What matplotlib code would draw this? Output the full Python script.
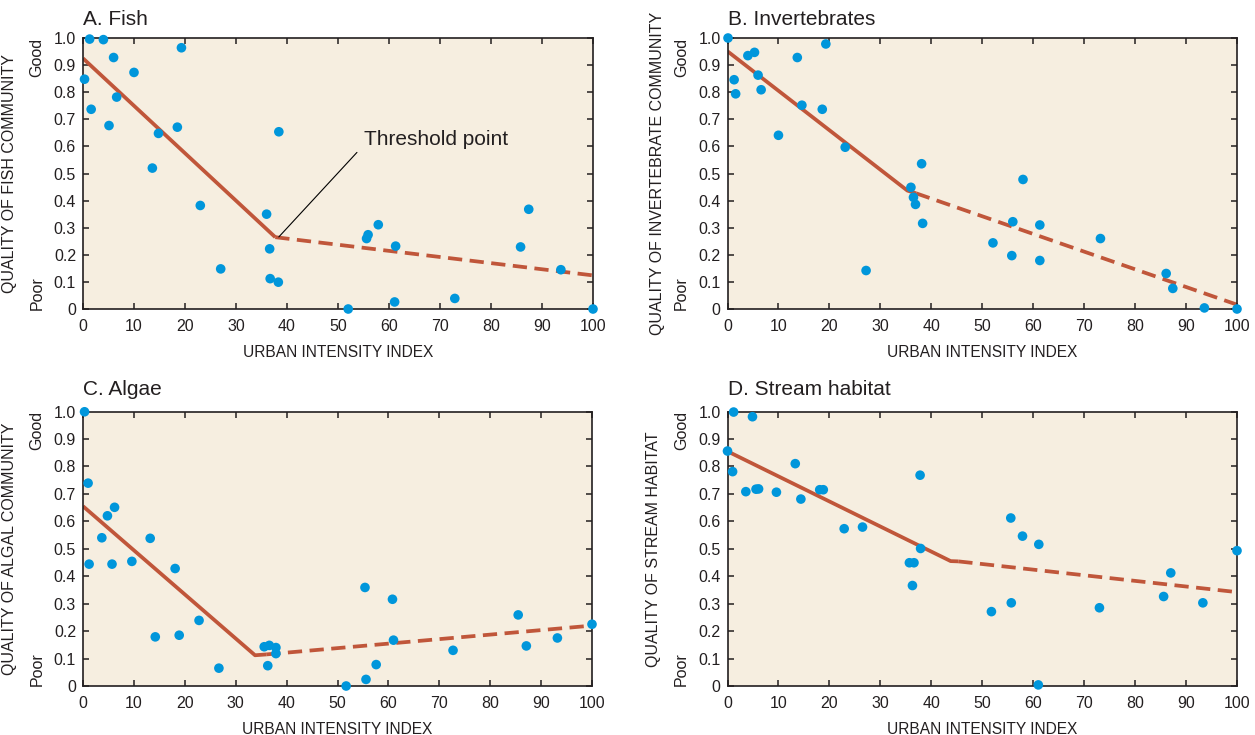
import matplotlib
matplotlib.use("Agg")
import matplotlib.pyplot as plt

plt.rcParams['font.family'] = ['Liberation Sans', 'DejaVu Sans']

# ---- data ----
fish_x = [0.3, 1.3, 4.0, 6.0, 1.6, 10.0, 6.6, 5.1, 19.3, 18.5, 14.8, 13.6, 23.0, 27.0,
          36.0, 36.6, 36.7, 38.3, 38.4, 52.0, 55.6, 55.9, 57.9, 61.3, 61.1, 72.9, 85.8,
          87.4, 93.7, 100.0]
fish_y = [0.848, 0.996, 0.994, 0.928, 0.737, 0.873, 0.782, 0.677, 0.964, 0.671, 0.648,
          0.520, 0.382, 0.148, 0.350, 0.222, 0.112, 0.099, 0.654, 0.0, 0.260, 0.274,
          0.311, 0.232, 0.026, 0.039, 0.229, 0.368, 0.145, 0.0]
fish_solid = ([0, 37.7], [0.925, 0.265])
fish_dash = ([37.7, 100], [0.265, 0.124])

inv_x = [0.1, 1.3, 1.6, 4.0, 5.3, 6.0, 6.6, 10.0, 13.7, 14.6, 18.6, 19.3, 23.1, 27.2,
         36.0, 36.5, 36.9, 38.1, 38.3, 52.1, 56.0, 55.8, 58.0, 61.3, 61.3, 73.2, 86.1,
         87.4, 93.6, 100.0]
inv_y = [1.0, 0.846, 0.794, 0.935, 0.947, 0.863, 0.809, 0.641, 0.928, 0.752, 0.737,
         0.978, 0.597, 0.142, 0.449, 0.412, 0.386, 0.536, 0.316, 0.244, 0.322, 0.197,
         0.478, 0.310, 0.179, 0.260, 0.131, 0.076, 0.004, 0.0]
inv_solid = ([0, 35.3, 37.0], [0.951, 0.437, 0.427])
inv_dash = ([37.0, 100], [0.427, 0.016])

alg_x = [0.3, 1.0, 1.2, 3.7, 4.8, 6.2, 5.7, 9.6, 13.2, 14.2, 18.1, 18.9, 22.8, 26.7,
         35.6, 36.6, 36.3, 37.9, 37.9, 51.7, 55.4, 55.6, 57.6, 60.8, 61.0, 72.7, 85.5,
         87.1, 93.2, 100.0]
alg_y = [0.999, 0.739, 0.444, 0.540, 0.620, 0.651, 0.444, 0.454, 0.538, 0.179, 0.428,
         0.185, 0.239, 0.065, 0.143, 0.148, 0.074, 0.140, 0.118, 0.0, 0.359, 0.024,
         0.078, 0.316, 0.167, 0.130, 0.259, 0.146, 0.175, 0.225]
alg_solid = ([0, 33.8, 36.0], [0.655, 0.112, 0.115])
alg_dash = ([36.0, 100], [0.115, 0.220])

hab_x = [0.0, 1.2, 1.0, 4.9, 3.6, 5.6, 6.1, 9.6, 13.3, 14.4, 18.1, 18.8, 22.9, 26.5,
         35.7, 36.6, 36.3, 37.9, 37.8, 51.8, 55.7, 55.6, 57.9, 61.1, 61.0, 73.0, 85.6,
         87.0, 93.3, 100.0]
hab_y = [0.856, 0.998, 0.781, 0.981, 0.708, 0.717, 0.718, 0.706, 0.810, 0.681, 0.715,
         0.715, 0.573, 0.579, 0.449, 0.449, 0.366, 0.501, 0.768, 0.271, 0.303, 0.612,
         0.546, 0.516, 0.004, 0.285, 0.326, 0.412, 0.303, 0.493]
hab_solid = ([0, 43.8, 45.3], [0.855, 0.455, 0.454])
hab_dash = ([45.3, 100], [0.454, 0.342])

titles = ["A. Fish", "B. Invertebrates", "C. Algae", "D. Stream habitat"]
ylabels = ["QUALITY OF FISH COMMUNITY", "QUALITY OF INVERTEBRATE COMMUNITY",
           "QUALITY OF ALGAL COMMUNITY", "QUALITY OF STREAM HABITAT"]
xlabel = "URBAN INTENSITY INDEX"
xticks = [0, 10, 20, 30, 40, 50, 60, 70, 80, 90, 100]
yticks = [0, 0.1, 0.2, 0.3, 0.4, 0.5, 0.6, 0.7, 0.8, 0.9, 1.0]
yticklabels = ["0", "0.1", "0.2", "0.3", "0.4", "0.5", "0.6", "0.7", "0.8", "0.9", "1.0"]

BG = '#f6eee0'
DOT = '#0096db'
LINE = '#c0563a'
INK = '#231f20'

fig = plt.figure(figsize=(12.55, 7.35), dpi=100)

# axes boxes in pixels: left, top, right, bottom
boxes = [(83, 38, 593, 309), (727.5, 38, 1237, 309),
         (83, 411.5, 592, 686), (727.5, 411.5, 1237, 686)]
W, H = 1255.0, 735.0

panels = [(fish_x, fish_y, fish_solid, fish_dash),
          (inv_x, inv_y, inv_solid, inv_dash),
          (alg_x, alg_y, alg_solid, alg_dash),
          (hab_x, hab_y, hab_solid, hab_dash)]

axes = []
for i, (px, py, solid, dash) in enumerate(panels):
    l, t, r, b = boxes[i]
    ax = fig.add_axes([l / W, (H - b) / H, (r - l) / W, (b - t) / H])
    axes.append(ax)
    ax.set_facecolor(BG)
    ax.plot(solid[0], solid[1], color=LINE, lw=2.7, solid_capstyle='butt', zorder=2)
    ln, = ax.plot(dash[0], dash[1], color=LINE, lw=2.7, zorder=2)
    ln.set_dashes([3.8, 2.0])
    ax.scatter(px, py, s=48, color=DOT, edgecolors='none', zorder=5, clip_on=False)

    ax.set_xlim(0, 100)
    ax.set_ylim(0, 1)
    ax.set_xticks(xticks)
    ax.set_yticks(yticks)
    ax.set_yticklabels(yticklabels)
    ax.tick_params(direction='in', length=4.5, width=1.1, color=INK, labelcolor=INK,
                   labelsize=11.5, top=True, right=True)
    ax.tick_params(axis='y', pad=5)
    ax.tick_params(axis='x', pad=7)
    for sp in ax.spines.values():
        sp.set_color(INK)
        sp.set_linewidth(1.2)

    ax.set_xlabel(xlabel, fontsize=11.2, color=INK, labelpad=8)
    ax.set_ylabel(ylabels[i], fontsize=11.5, color=INK)
    ax.yaxis.set_label_coords(-0.13 if i != 1 else -0.123, 0.5)
    pad = 9.5 if i < 2 else 12
    ax.set_title(titles[i], loc='left', fontsize=15, color=INK, pad=pad)

    ax.text(-0.09, 0.93, "Good", transform=ax.transAxes, rotation=90, fontsize=11.5,
            color=INK, ha='center', va='center')
    ax.text(-0.09, 0.06, "Poor", transform=ax.transAxes, rotation=90, fontsize=11.5,
            color=INK, ha='center', va='center')

# threshold callout on the fish panel
axes[0].annotate("Threshold point", xy=(38.4, 0.266), xytext=(55.0, 0.625),
                 fontsize=15, color=INK, ha='left', va='center',
                 arrowprops=dict(arrowstyle='-', color='black', lw=0.8,
                                 relpos=(0, 0.2), shrinkA=4, shrinkB=0))

fig.savefig("out.png", dpi=100, facecolor='white')
